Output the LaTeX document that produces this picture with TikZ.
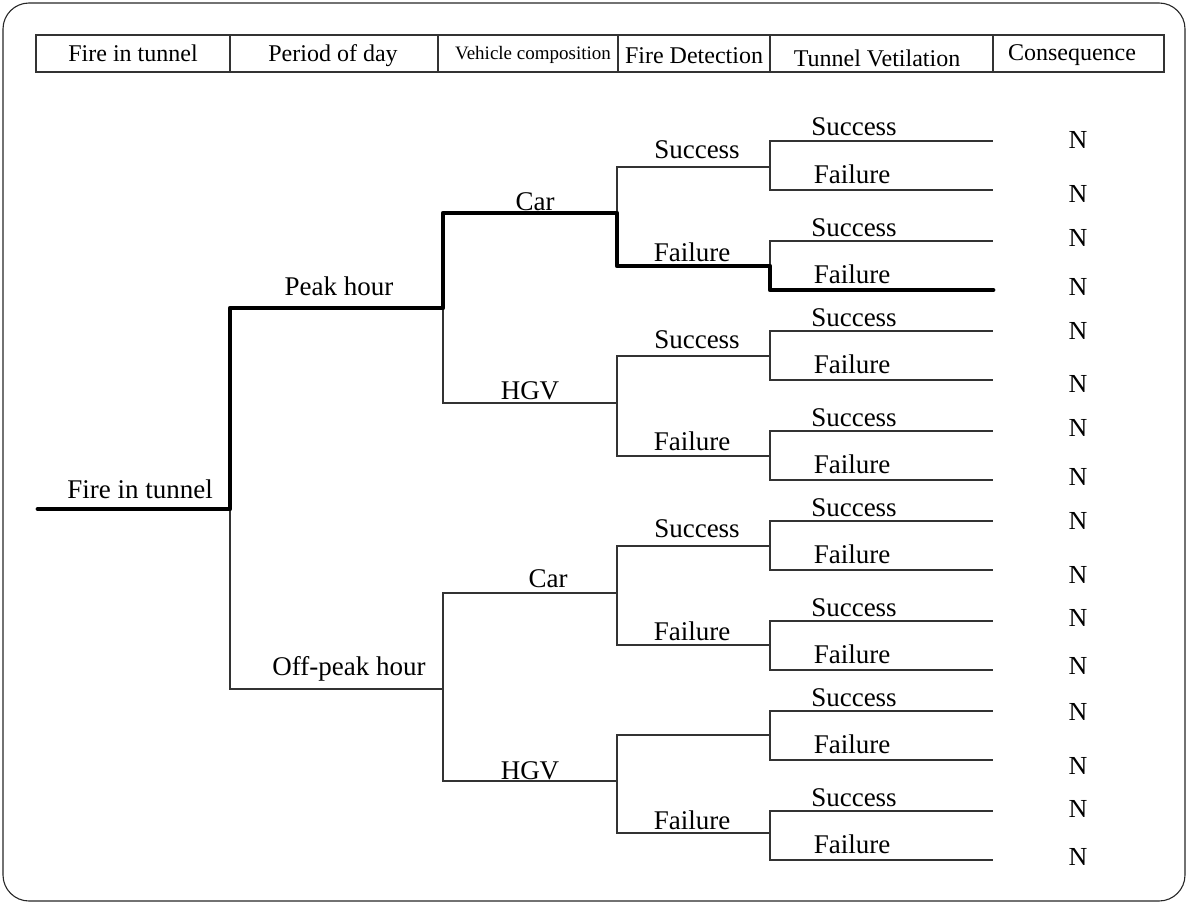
\documentclass[tikz,border=0pt]{standalone}
\usepackage{fontspec}
\setmainfont{Liberation Serif}
\begin{document}
\begin{tikzpicture}[x=1pt,y=-1pt,
  thin line/.style={draw=black!80,line width=1.1pt},
  thick line/.style={draw=black,line width=4.8pt,line cap=round,line join=round},
  lbl/.style={anchor=base,inner sep=0pt,font=\fontsize{27}{30}\selectfont},
  hdr/.style={anchor=base,inner sep=0pt,font=\fontsize{24}{28}\selectfont},
  cons/.style={anchor=base,inner sep=0pt,font=\fontsize{26}{30}\selectfont}]
\useasboundingbox (0,0) rectangle (1188,904);
% frame
\draw[draw=black!85,line width=1.1pt,rounded corners=26pt] (3,3) rectangle (1185,901);
% header
\draw[thin line] (36,35) rectangle (1164,72);
\foreach \x in {230,438,618,770,993}{\draw[thin line] (\x,35) -- (\x,72);}
\node[hdr] (h1) at (133,62) {Fire in tunnel};
\node[hdr] (h2) at (333,62) {Period of day};
\node[hdr,font=\fontsize{19}{22}\selectfont] (h3) at (533,60) {Vehicle composition};
\node[hdr] (h4) at (694,64) {Fire Detection};
\node[hdr] (h5) at (877,67) {Tunnel Vetilation};
\node[hdr] (h6) at (1072,61) {Consequence};
% coordinates
\coordinate (S) at (38,509);
\coordinate (R) at (230,509);
\coordinate (P1) at (443,308);
\coordinate (P2) at (443,689);
\coordinate (V11) at (617,213);
\coordinate (V12) at (617,403);
\coordinate (V21) at (617,593);
\coordinate (V22) at (617,781);
\coordinate (D111) at (770,167);
\coordinate (D112) at (770,266);
\coordinate (D121) at (770,356);
\coordinate (D122) at (770,456);
\coordinate (D211) at (770,546);
\coordinate (D212) at (770,645);
\coordinate (D221) at (770,735);
\coordinate (D222) at (770,833);
\foreach \i/\y in {1/141,2/190,3/241,4/290,5/331,6/380,7/431,8/480,9/521,10/570,11/621,12/670,13/711,14/760,15/811,16/860}
  {\coordinate (L\i) at (993,\y);}
% thin tree
\draw[thin line] (R) |- (P1);
\draw[thin line] (R) |- (P2);
\draw[thin line] (P1) |- (V11);
\draw[thin line] (P1) |- (V12);
\draw[thin line] (P2) |- (V21);
\draw[thin line] (P2) |- (V22);
\draw[thin line] (V11) |- (D111);
\draw[thin line] (V11) |- (D112);
\draw[thin line] (V12) |- (D121);
\draw[thin line] (V12) |- (D122);
\draw[thin line] (V21) |- (D211);
\draw[thin line] (V21) |- (D212);
\draw[thin line] (V22) |- (D221);
\draw[thin line] (V22) |- (D222);
\foreach \d/\a/\b in {D111/1/2,D112/3/4,D121/5/6,D122/7/8,D211/9/10,D212/11/12,D221/13/14,D222/15/16}{
  \draw[thin line] (\d) |- (L\a);
  \draw[thin line] (\d) |- (L\b);
}
% thick path
\draw[thick line] (S) -- (R) |- (P1) |- (V11) |- (D112) |- (L4);
% tree labels
\node[lbl] (t0) at (140,498) {Fire in tunnel};
\node[lbl] (t1) at (339,295) {Peak hour};
\node[lbl] (t2) at (349,675) {Off-peak hour};
\node[lbl] (t3) at (535,211) {Car};
\node[lbl] (t4) at (530,399) {HGV};
\node[lbl] (t5) at (548,587) {Car};
\node[lbl] (t6) at (530,779) {HGV};
\node[lbl] (d1) at (697,159) {Success};
\node[lbl] (d2) at (692,261) {Failure};
\node[lbl] (d3) at (697,348) {Success};
\node[lbl] (d4) at (692,450) {Failure};
\node[lbl] (d5) at (697,537) {Success};
\node[lbl] (d6) at (692,640) {Failure};
\node[lbl] (d8) at (692,829) {Failure};
\foreach \i/\y in {1/127,3/227,5/317,7/417,9/507,11/607,13/697,15/797}
  {\node[lbl] (ls\i) at (854,\y+9) {Success};}
\foreach \i/\y in {2/175,4/274,6/364,8/464,10/554,12/654,14/744,16/844}
  {\node[lbl] (lf\i) at (852,\y+9) {Failure};}
\foreach \i/\y in {1/141,2/195,3/238,4/287,5/331,6/384,7/428,8/477,9/521,10/575,11/618,12/666,13/712,14/766,15/809,16/857}
  {\node[cons] (n\i) at (1078,\y+8) {N};}
\end{tikzpicture}
\end{document}
